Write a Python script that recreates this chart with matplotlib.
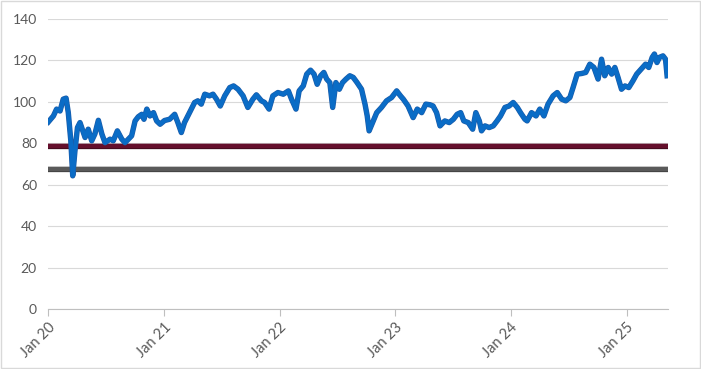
import matplotlib
matplotlib.use("Agg")
import matplotlib.pyplot as plt
import matplotlib.patheffects as pe
from matplotlib.patches import Rectangle
import pandas as pd

# values (roughly every two weeks)
dates = [
    "2020-01-02", "2020-01-18", "2020-01-28", "2020-02-08", "2020-02-18", "2020-02-27",
    "2020-03-05", "2020-03-13", "2020-03-19", "2020-03-26", "2020-04-03", "2020-04-11",
    "2020-04-20", "2020-04-27", "2020-05-07", "2020-05-18", "2020-05-28", "2020-06-08",
    "2020-06-19", "2020-06-29", "2020-07-15", "2020-07-25", "2020-08-07", "2020-08-21",
    "2020-08-31", "2020-09-11", "2020-09-21", "2020-10-02", "2020-10-12", "2020-10-23",
    "2020-10-30", "2020-11-08", "2020-11-18", "2020-11-29", "2020-12-09", "2020-12-20",
    "2021-01-03", "2021-01-19", "2021-02-04", "2021-02-14", "2021-02-25", "2021-03-07",
    "2021-03-23", "2021-04-08", "2021-04-18", "2021-04-29", "2021-05-10", "2021-05-25",
    "2021-06-05", "2021-06-16", "2021-06-28", "2021-07-12", "2021-07-28", "2021-08-09",
    "2021-08-23", "2021-09-08", "2021-09-23", "2021-10-09", "2021-10-20", "2021-11-05",
    "2021-11-15", "2021-11-29", "2021-12-11", "2021-12-27", "2022-01-13", "2022-01-29",
    "2022-02-08", "2022-02-22", "2022-03-04", "2022-03-17", "2022-03-28", "2022-04-09",
    "2022-04-20", "2022-04-30", "2022-05-11", "2022-05-21", "2022-05-30", "2022-06-09",
    "2022-06-18", "2022-06-28", "2022-07-09", "2022-07-19", "2022-07-30", "2022-08-11",
    "2022-08-22", "2022-09-03", "2022-09-17", "2022-09-28", "2022-10-05", "2022-10-11",
    "2022-10-22", "2022-11-04", "2022-11-19", "2022-12-05", "2022-12-21", "2023-01-06",
    "2023-01-18", "2023-01-27", "2023-02-11", "2023-02-27", "2023-03-12", "2023-03-26",
    "2023-04-08", "2023-04-21", "2023-05-01", "2023-05-12", "2023-05-23", "2023-06-07",
    "2023-06-21", "2023-07-04", "2023-07-16", "2023-07-27", "2023-08-06", "2023-08-20",
    "2023-09-03", "2023-09-13", "2023-09-24", "2023-10-01", "2023-10-12", "2023-10-25",
    "2023-11-07", "2023-11-19", "2023-11-30", "2023-12-14", "2023-12-27", "2024-01-09",
    "2024-01-22", "2024-02-01", "2024-02-15", "2024-02-22", "2024-03-07", "2024-03-21",
    "2024-04-02", "2024-04-15", "2024-04-28", "2024-05-14", "2024-05-27", "2024-06-10",
    "2024-06-23", "2024-07-06", "2024-07-16", "2024-07-29", "2024-08-12", "2024-08-25",
    "2024-09-07", "2024-09-20", "2024-10-03", "2024-10-14", "2024-10-24", "2024-11-04",
    "2024-11-15", "2024-11-25", "2024-12-05", "2024-12-16", "2024-12-27", "2025-01-08",
    "2025-01-21", "2025-02-02", "2025-02-16", "2025-03-02", "2025-03-12", "2025-03-23",
    "2025-03-30", "2025-04-07", "2025-04-15", "2025-04-26", "2025-05-04", "2025-05-09",
]
values = [
    90.3, 93.2, 96.5, 95.6, 101.3, 101.8,
    94.8, 81.2, 64.3, 76.3, 87.6, 90.0,
    86.0, 82.8, 86.8, 81.2, 84.5, 91.1,
    84.5, 80.3, 82.0, 81.2, 86.0, 82.0,
    80.3, 82.0, 83.6, 90.8, 92.8, 94.0,
    91.6, 96.5, 93.2, 94.8, 90.8, 89.2,
    91.0, 91.6, 94.0, 90.0, 85.2, 90.0,
    94.8, 99.7, 100.5, 98.9, 103.7, 102.9,
    103.7, 101.3, 98.0, 102.9, 106.9, 107.7,
    106.1, 102.9, 97.3, 101.3, 103.4, 100.5,
    99.7, 96.5, 102.9, 104.5, 103.7, 105.3,
    101.3, 96.5, 105.3, 107.7, 113.4, 115.3,
    113.4, 108.5, 112.6, 114.2, 111.0, 109.3,
    97.3, 109.3, 106.1, 109.3, 111.0, 112.6,
    111.8, 109.3, 106.1, 98.9, 93.2, 86.0,
    90.0, 94.8, 97.3, 100.5, 102.1, 105.3,
    102.9, 101.3, 98.0, 92.4, 96.5, 94.8,
    98.9, 98.6, 98.0, 94.8, 88.4, 90.8,
    90.0, 91.6, 94.0, 94.8, 90.8, 90.0,
    86.8, 94.8, 90.8, 86.0, 88.4, 87.6,
    88.4, 90.8, 93.2, 97.3, 98.0, 99.7,
    97.3, 94.8, 91.6, 90.8, 94.8, 93.2,
    96.5, 93.2, 98.9, 102.9, 104.5, 101.3,
    100.5, 102.1, 106.9, 113.4, 113.7, 114.2,
    118.2, 116.6, 111.0, 120.6, 112.6, 116.6,
    113.4, 116.6, 111.8, 106.1, 107.7, 106.9,
    110.1, 113.4, 115.8, 118.2, 116.6, 121.5,
    123.1, 119.0, 121.5, 122.2, 120.6, 112.6,
]
level_upper = 78.8
level_lower = 67.6
y_ticks = [0, 20, 40, 60, 80, 100, 120, 140]
x_ticks = ["2020-01-01", "2021-01-01", "2022-01-01", "2023-01-01", "2024-01-01", "2025-01-01"]
x_labels = ["Jan 20", "Jan 21", "Jan 22", "Jan 23", "Jan 24", "Jan 25"]

plt.rcParams["font.family"] = ["Lato", "DejaVu Sans"]

fig = plt.figure(figsize=(7.01, 3.69), dpi=100)
ax = fig.add_axes([0.0685, 0.1626, 0.8845, 0.7859])

ax.axhline(level_upper, color="#650F2C", lw=3.2, zorder=3,
           path_effects=[pe.Stroke(linewidth=3.8, foreground="#3E0A1C"), pe.Normal()])
ax.axhline(level_lower, color="#5A5A5A", lw=3.2, zorder=3,
           path_effects=[pe.Stroke(linewidth=3.8, foreground="#404040"), pe.Normal()])

ax.plot(pd.to_datetime(dates), values, color="#0A6CC6", lw=3.0, zorder=4,
        solid_joinstyle="round",
        path_effects=[pe.Stroke(linewidth=3.9, foreground="#1B5BA8"), pe.Normal()])

ax.set_ylim(0, 140)
ax.set_yticks(y_ticks)
ax.set_xlim(pd.Timestamp("2020-01-01"), pd.Timestamp("2025-05-12"))
ax.set_xticks(pd.to_datetime(x_ticks))
ax.set_xticklabels(x_labels, rotation=45, ha="right", rotation_mode="anchor")

ax.grid(axis="y", color="#D9D9D9", lw=0.8)
ax.set_axisbelow(True)
for side in ["top", "right", "left"]:
    ax.spines[side].set_visible(False)
ax.spines["bottom"].set_color("#BFBFBF")
ax.spines["bottom"].set_linewidth(0.8)
ax.tick_params(axis="y", length=0, labelsize=10, labelcolor="#595959", pad=8)
ax.tick_params(axis="x", length=5, color="#BFBFBF", labelsize=10.5, labelcolor="#595959", pad=3)

fig.patches.append(Rectangle((0.001, 0.002), 0.997, 0.995, transform=fig.transFigure,
                             fill=False, edgecolor="#D9D9D9", lw=1))

fig.savefig("out.png", dpi=100)
